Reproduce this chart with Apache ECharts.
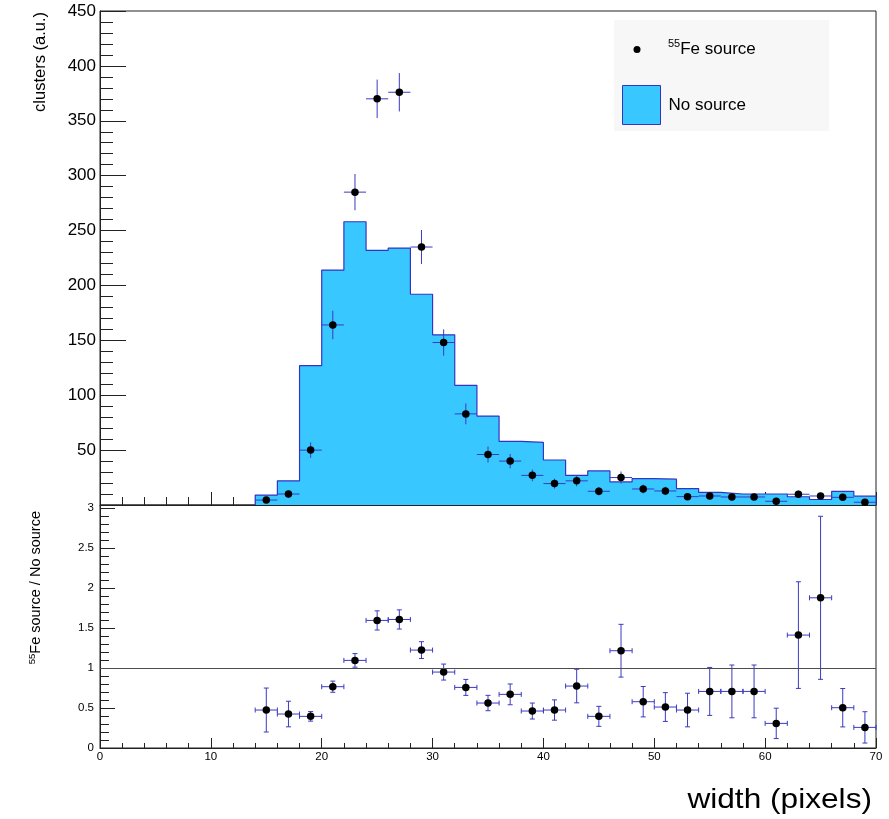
<!DOCTYPE html>
<html>
<head>
<meta charset="utf-8">
<script src="https://cdn.jsdelivr.net/npm/echarts@6/dist/echarts.min.js"></script>
<style>
html,body{margin:0;padding:0;background:#fff;}
#chart{width:889px;height:819px;}
</style>
</head>
<body>
<div id="chart"></div>
<script>
// ---------------- data ----------------
const binCenters = [15,17,19,21,23,25,27,29,31,33,35,37,39,41,43,45,47,49,51,53,55,57,59,61,63,65,67,69];
const binHalfWidth = 1;
const noSource   = [9,22,127,214,258,232,234,192,155,109,81,58,57,41,27,31,21,24,23.5,15,11.5,10,10,10,7.5,5,12.5,8];
const feSource   = [4.5,10,50,164,285,370,376,235,148,83,46,40,27,19.5,22,12.5,25,14.6,12.8,7.6,8.2,7.3,7.3,3.4,9.8,8.2,7,2.5];
const feSourceErr= [2.5,3.5,7,13,16.5,17.5,17.5,15.5,12,9.5,7.3,6.5,5.3,4.5,5,3.8,5.5,4,3.8,3,3,2.8,2.8,2,3.3,3,2.8,1.7];
const ratio      = [0.475,0.425,0.396,0.767,1.096,1.596,1.608,1.225,0.95,0.758,0.5625,0.671,0.4625,0.475,0.775,0.396,1.217,0.579,0.5125,0.475,0.708,0.708,0.708,0.308,1.4125,1.879,0.504,0.258];
const ratioErr   = [0.275,0.16,0.06,0.07,0.085,0.12,0.12,0.105,0.1,0.1,0.096,0.13,0.1,0.127,0.21,0.125,0.33,0.19,0.18,0.21,0.3,0.33,0.33,0.19,0.667,1.02,0.24,0.196];
const xTicks = [0,10,20,30,40,50,60,70];
const topYTicks = [0,50,100,150,200,250,300,350,400,450];
const ratioYTicks = [0,0.5,1,1.5,2,2.5,3];
const ratioRef = 1;

// ---------------- derived ----------------
const histOutline = [[binCenters[0] - binHalfWidth, 0]];
binCenters.forEach((c, i) => {
  histOutline.push([c - binHalfWidth, noSource[i]]);
  histOutline.push([c + binHalfWidth, noSource[i]]);
});
histOutline.push([binCenters[binCenters.length - 1] + binHalfWidth, 0]);

const feData = binCenters.map((c, i) => [c, feSource[i], feSourceErr[i]]);
const ratioData = binCenters.map((c, i) => [c, ratio[i], ratioErr[i]]);

const FONT = '"Liberation Sans", Arial, Helvetica, sans-serif';
const FILL = '#38c8ff';
const EDGE = '#3434c4';
const ERR = '#3a3ac4';

function errRender(caps) {
  return function (params, api) {
    const x = api.value(0), y = api.value(1), e = api.value(2);
    const l = api.coord([x - binHalfWidth, y]);
    const r = api.coord([x + binHalfWidth, y]);
    const t = api.coord([x, y + e]);
    const b = api.coord([x, Math.max(0, y - e)]);
    const style = { stroke: ERR, lineWidth: 1 };
    const kids = [
      { type: 'line', shape: { x1: l[0], y1: l[1], x2: r[0], y2: r[1] }, style },
      { type: 'line', shape: { x1: t[0], y1: t[1], x2: b[0], y2: b[1] }, style }
    ];
    if (caps) {
      const c = 2.5;
      kids.push({ type: 'line', shape: { x1: l[0], y1: l[1] - c, x2: l[0], y2: l[1] + c }, style });
      kids.push({ type: 'line', shape: { x1: r[0], y1: r[1] - c, x2: r[0], y2: r[1] + c }, style });
      kids.push({ type: 'line', shape: { x1: t[0] - c, y1: t[1], x2: t[0] + c, y2: t[1] }, style });
      kids.push({ type: 'line', shape: { x1: b[0] - c, y1: b[1], x2: b[0] + c, y2: b[1] }, style });
    }
    return { type: 'group', children: kids };
  };
}

const chart = echarts.init(document.getElementById('chart'), null, { renderer: 'canvas' });

const option = {
  animation: false,
  backgroundColor: '#fff',
  textStyle: { fontFamily: FONT },
  grid: [
    { left: 100, right: 13, top: 11, height: 494, show: true, borderColor: '#222', borderWidth: 1, backgroundColor: 'transparent' },
    { left: 100, right: 13, top: 505, height: 243, show: true, borderColor: '#222', borderWidth: 1, backgroundColor: 'transparent' }
  ],
  xAxis: [
    {
      gridIndex: 0, type: 'value', min: xTicks[0], max: xTicks[xTicks.length - 1], interval: xTicks[1] - xTicks[0],
      axisLine: { show: true, onZero: false, lineStyle: { color: '#222' } },
      axisTick: { show: true, inside: true, length: 13, lineStyle: { color: '#222' } },
      minorTick: { show: true, splitNumber: 5, length: 8, lineStyle: { color: '#222' } },
      axisLabel: { show: false },
      splitLine: { show: false }
    },
    {
      gridIndex: 1, type: 'value', min: xTicks[0], max: xTicks[xTicks.length - 1], interval: xTicks[1] - xTicks[0],
      axisLine: { show: true, onZero: false, lineStyle: { color: '#222' } },
      axisTick: { show: true, inside: true, length: 10, lineStyle: { color: '#222' } },
      minorTick: { show: true, splitNumber: 5, length: 5, lineStyle: { color: '#222' } },
      axisLabel: { show: true, fontSize: 11.5, color: '#000', margin: 3, fontFamily: FONT },
      splitLine: { show: false }
    }
  ],
  yAxis: [
    {
      gridIndex: 0, type: 'value', min: topYTicks[0], max: topYTicks[topYTicks.length - 1], interval: topYTicks[1] - topYTicks[0],
      axisLine: { show: true, onZero: false, lineStyle: { color: '#222' } },
      axisTick: { show: true, inside: true, length: 26, lineStyle: { color: '#222' } },
      minorTick: { show: true, splitNumber: 5, length: 13, lineStyle: { color: '#222' } },
      axisLabel: { show: true, fontSize: 17, color: '#000', margin: 4, showMinLabel: false, fontFamily: FONT },
      splitLine: { show: false }
    },
    {
      gridIndex: 1, type: 'value', min: ratioYTicks[0], max: 3.04, interval: ratioYTicks[1] - ratioYTicks[0],
      axisLine: { show: true, onZero: false, lineStyle: { color: '#222' } },
      axisTick: { show: true, inside: true, length: 15, lineStyle: { color: '#222' } },
      minorTick: { show: true, splitNumber: 5, length: 9, lineStyle: { color: '#222' } },
      axisLabel: { show: true, fontSize: 11.5, color: '#000', margin: 6, showMaxLabel: false, fontFamily: FONT },
      splitLine: { show: false }
    }
  ],
  legend: [
    {
      data: [{ name: 'Fe55', icon: 'path://M0 0M38 39M11.5 19.5A3.5 3.5 0 1 1 18.5 19.5A3.5 3.5 0 1 1 11.5 19.5Z', itemStyle: { color: '#000', opacity: 1 } }],
      left: 622, top: 30, itemWidth: 38, itemHeight: 39, padding: 0, selectedMode: false,
      formatter: function () { return '{sup|55}{t|Fe source}'; },
      textStyle: {
        color: '#000', fontFamily: FONT, fontSize: 17, padding: [0, 0, 0, 3],
        rich: {
          sup: { fontSize: 11, fontFamily: FONT, color: '#000', verticalAlign: 'top', lineHeight: 11 },
          t: { fontSize: 17, fontFamily: FONT, color: '#000', lineHeight: 22 }
        }
      }
    },
    {
      data: [{ name: 'No source', icon: 'rect', itemStyle: { color: FILL, borderColor: EDGE, borderWidth: 1, opacity: 1 } }],
      left: 622, top: 85, itemWidth: 38, itemHeight: 39, padding: 0, selectedMode: false,
      textStyle: { color: '#000', fontFamily: FONT, fontSize: 17, padding: [0, 0, 0, 3] }
    }
  ],
  graphic: [
    { type: 'rect', left: 614, top: 20, shape: { width: 215, height: 111 }, style: { fill: '#f7f7f7' }, z: 0, silent: true },
    {
      type: 'text', x: 40, y: 12, rotation: Math.PI / 2, silent: true,
      style: { text: 'clusters (a.u.)', fontSize: 16.5, fontFamily: FONT, fill: '#000', align: 'right', verticalAlign: 'middle', textAlign: 'right', textVerticalAlign: 'middle' }
    },
    {
      type: 'text', x: 36, y: 511, rotation: Math.PI / 2, silent: true,
      style: {
        text: '{sup|55}{t|Fe source / No source}', fill: '#000', align: 'right', verticalAlign: 'middle', textAlign: 'right', textVerticalAlign: 'middle',
        fontFamily: FONT, fontSize: 14.5,
        rich: {
          sup: { fontSize: 9.5, fontFamily: FONT, fill: '#000', verticalAlign: 'top', lineHeight: 9 },
          t: { fontSize: 14.5, fontFamily: FONT, fill: '#000', lineHeight: 17 }
        }
      }
    },
    {
      type: 'text', x: 872, y: 800, scaleX: 1.13, silent: true,
      style: { text: 'width (pixels)', fontSize: 28, fontFamily: FONT, fill: '#000', align: 'right', verticalAlign: 'middle', textAlign: 'right', textVerticalAlign: 'middle' }
    }
  ],
  series: [
    {
      name: 'No source', type: 'line', xAxisIndex: 0, yAxisIndex: 0,
      data: histOutline, symbol: 'none', showSymbol: false, z: 2,
      lineStyle: { color: EDGE, width: 1.2 },
      itemStyle: { color: FILL, borderColor: EDGE },
      areaStyle: { color: FILL, opacity: 1, origin: 'start' }
    },
    {
      name: 'Fe55err', type: 'custom', xAxisIndex: 0, yAxisIndex: 0, z: 3,
      data: feData, encode: { x: 0, y: 1 }, renderItem: errRender(false), silent: true
    },
    {
      name: 'Fe55', type: 'scatter', xAxisIndex: 0, yAxisIndex: 0, z: 4,
      data: feData.map(d => [d[0], d[1]]), symbol: 'circle', symbolSize: 7.5,
      itemStyle: { color: '#000', opacity: 1 }
    },
    {
      name: 'ratioErr', type: 'custom', xAxisIndex: 1, yAxisIndex: 1, z: 3,
      data: ratioData, encode: { x: 0, y: 1 }, renderItem: errRender(true), silent: true
    },
    {
      name: 'ratio', type: 'scatter', xAxisIndex: 1, yAxisIndex: 1, z: 4,
      data: ratioData.map(d => [d[0], d[1]]), symbol: 'circle', symbolSize: 7.5,
      itemStyle: { color: '#000', opacity: 1 },
      markLine: {
        silent: true, symbol: 'none', label: { show: false },
        lineStyle: { color: '#4d4d4d', type: 'solid', width: 1 },
        data: [{ yAxis: ratioRef }]
      }
    }
  ]
};
chart.setOption(option);
</script>
</body>
</html>
